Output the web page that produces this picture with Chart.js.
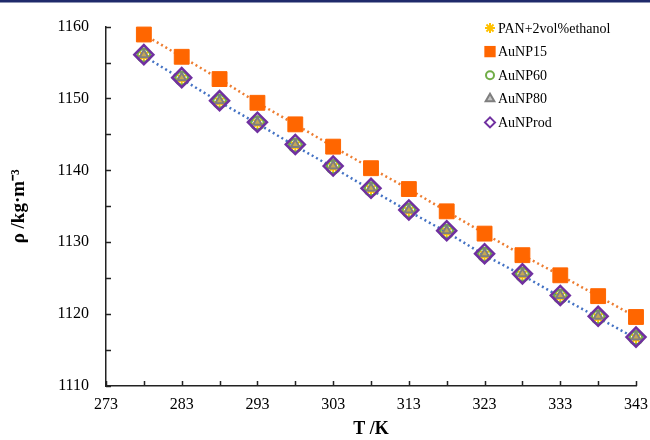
<!DOCTYPE html>
<html>
<head>
<meta charset="utf-8">
<script src="https://cdn.jsdelivr.net/npm/chart.js"></script>
<style>
  html, body { margin: 0; padding: 0; background: #fff; }
  #wrap { width: 650px; height: 440px; }
</style>
</head>
<body>
<div id="wrap"><canvas id="chart" width="650" height="440"></canvas></div>
<script>
// temperatures (K)
const temps = [278, 283, 288, 293, 298, 303, 308, 313, 318, 323, 328, 333, 338, 343];

// density (kg/m3) per sample
const pan = [1155.9, 1152.7, 1149.5, 1146.5, 1143.4, 1140.4, 1137.3, 1134.3, 1131.4, 1128.2, 1125.4, 1122.4, 1119.5, 1116.6];
const aunp15 = [1158.9, 1155.8, 1152.7, 1149.4, 1146.4, 1143.3, 1140.3, 1137.4, 1134.3, 1131.2, 1128.2, 1125.4, 1122.5, 1119.6];
const aunp60 = [1156.0, 1152.8, 1149.6, 1146.6, 1143.5, 1140.5, 1137.4, 1134.4, 1131.5, 1128.3, 1125.5, 1122.5, 1119.6, 1116.7];
const aunp80 = [1156.1, 1152.9, 1149.7, 1146.7, 1143.6, 1140.6, 1137.5, 1134.5, 1131.6, 1128.4, 1125.6, 1122.6, 1119.7, 1116.8];
const aunprod = [1156.1, 1152.9, 1149.7, 1146.7, 1143.6, 1140.6, 1137.5, 1134.5, 1131.6, 1128.4, 1125.6, 1122.6, 1119.7, 1116.8];

const seriesNames = ["PAN+2vol%ethanol", "AuNP15", "AuNP60", "AuNP80", "AuNProd"];

// axis ranges
const xMin = 273, xMax = 343, xStep = 5, xLabelStep = 10;
const yMin = 1110, yMax = 1160, yStep = 5, yLabelStep = 10;

const FONT = "'Liberation Serif', 'Times New Roman', serif";

function pts(ys) {
    return temps.map((t, i) => ({ x: t, y: ys[i] }));
}

const markers = [
    { label: seriesNames[0], data: pts(pan), pointStyle: "star", pointRadius: 6, borderColor: "#FFC000", backgroundColor: "#FFC000", pointBorderWidth: 2, legendR: 5 },
    { label: seriesNames[1], data: pts(aunp15), pointStyle: "rect", pointRadius: 10.5, borderColor: "#FF6600", backgroundColor: "#FF6600", pointBorderWidth: 1, legendR: 8 },
    { label: seriesNames[2], data: pts(aunp60), pointStyle: "circle", pointRadius: 6.5, borderColor: "#70AD47", backgroundColor: "rgba(0,0,0,0)", pointBorderWidth: 2.5, legendR: 4 },
    { label: seriesNames[3], data: pts(aunp80), pointStyle: "triangle", pointRadius: 5, borderColor: "#7F7F7F", backgroundColor: "rgba(150,150,150,0.55)", pointBorderWidth: 2, legendR: 5 },
    { label: seriesNames[4], data: pts(aunprod), pointStyle: "rectRot", pointRadius: 9.5, borderColor: "#7030A0", backgroundColor: "rgba(0,0,0,0)", pointBorderWidth: 2.5, legendR: 5 }
];

const datasets = markers.map((m, i) => ({
    label: m.label,
    data: m.data,
    showLine: false,
    clip: false,
    pointStyle: m.pointStyle,
    pointRadius: m.pointRadius,
    pointBorderWidth: m.pointBorderWidth,
    pointBorderColor: m.borderColor,
    pointBackgroundColor: m.backgroundColor,
    legendR: m.legendR,
    isMarker: true,
    order: 5 - i
}));

// dotted trend lines, drawn underneath the markers
datasets.push({
    label: "trend AuNP15", data: pts(aunp15), showLine: true, pointRadius: 0,
    borderColor: "#ED7D31", borderWidth: 2.5, borderDash: [2, 3], order: 10
});
datasets.push({
    label: "trend PAN", data: pts(pan), showLine: true, pointRadius: 0,
    borderColor: "#4472C4", borderWidth: 2.5, borderDash: [2, 3], order: 11
});

const decor = {
    id: "decor",
    beforeDraw(chart) {
        const ctx = chart.ctx;
        ctx.save();
        ctx.fillStyle = "#ffffff";
        ctx.fillRect(0, 0, chart.width, chart.height);
        ctx.fillStyle = "#1F2A6B";
        ctx.fillRect(0, 0, chart.width, 2.5);
        ctx.restore();
    },
    afterDraw(chart) {
        const ctx = chart.ctx;
        const area = chart.chartArea;
        const xs = chart.scales.x, ys = chart.scales.y;
        ctx.save();
        // inward tick marks
        ctx.strokeStyle = "#222";
        ctx.lineWidth = 1.5;
        ctx.beginPath();
        xs.ticks.forEach(t => {
            const px = Math.round(xs.getPixelForValue(t.value)) + 0.5;
            ctx.moveTo(px, area.bottom);
            ctx.lineTo(px, area.bottom - 5);
        });
        ys.ticks.forEach(t => {
            const py = Math.round(ys.getPixelForValue(t.value)) + 0.5;
            ctx.moveTo(area.left, py);
            ctx.lineTo(area.left + 5, py);
        });
        ctx.stroke();

        // legend inside plot area
        const lx = 490, ly0 = 28, dy = 23.6;
        ctx.font = "14px " + FONT;
        ctx.textBaseline = "middle";
        ctx.textAlign = "left";
        let row = 0;
        chart.data.datasets.forEach(ds => {
            if (!ds.isMarker) return;
            const y = ly0 + row * dy;
            ctx.fillStyle = ds.pointBackgroundColor;
            ctx.strokeStyle = ds.pointBorderColor;
            ctx.lineWidth = ds.pointStyle === "rect" ? 0 : 2;
            Chart.helpers.drawPoint(ctx, {
                pointStyle: ds.pointStyle,
                radius: ds.legendR,
                rotation: 0,
                borderWidth: ds.pointStyle === "rect" ? 0 : 2
            }, lx, y);
            ctx.fillStyle = "#000";
            ctx.fillText(ds.label, lx + 8, y + 1);
            row++;
        });
        ctx.restore();
    }
};

new Chart(document.getElementById("chart"), {
    type: "scatter",
    data: { datasets: datasets },
    plugins: [decor],
    options: {
        responsive: false,
        animation: false,
        layout: { padding: { top: 25, right: 14, left: 0, bottom: 0 } },
        plugins: {
            legend: { display: false },
            tooltip: { enabled: false }
        },
        scales: {
            x: {
                type: "linear",
                min: xMin, max: xMax,
                afterFit(scale) {
                    scale.height = 54;
                    scale.paddingRight = 0;
                    scale.paddingLeft = 0;
                },
                afterBuildTicks(scale) {
                    const t = [];
                    for (let v = xMin; v <= xMax; v += xStep) t.push({ value: v });
                    scale.ticks = t;
                },
                ticks: {
                    autoSkip: false,
                    maxRotation: 0,
                    padding: 9,
                    color: "#000",
                    font: { family: FONT, size: 16 },
                    callback: v => ((v - xMin) % xLabelStep === 0 ? String(v) : "")
                },
                grid: { drawOnChartArea: false, drawTicks: false },
                border: { display: true, color: "#222", width: 1.5 },
                title: {
                    display: true, text: "T /K", color: "#000",
                    font: { family: FONT, size: 18, weight: "bold" },
                    padding: { top: 2, bottom: 0 }
                }
            },
            y: {
                type: "linear",
                min: yMin, max: yMax,
                afterFit(scale) { scale.width = 106; },
                afterBuildTicks(scale) {
                    const t = [];
                    for (let v = yMin; v <= yMax; v += yStep) t.push({ value: v });
                    scale.ticks = t;
                },
                ticks: {
                    autoSkip: false,
                    padding: 17,
                    color: "#000",
                    font: { family: FONT, size: 16 },
                    callback: v => ((v - yMin) % yLabelStep === 0 ? String(v) : "")
                },
                grid: { drawOnChartArea: false, drawTicks: false },
                border: { display: true, color: "#222", width: 1.5 },
                title: {
                    display: true, text: "ρ /kg·m⁻³", color: "#000",
                    font: { family: FONT, size: 19, weight: "bold" },
                    padding: { top: 8, bottom: 0 }
                }
            }
        }
    }
});
</script>
</body>
</html>
